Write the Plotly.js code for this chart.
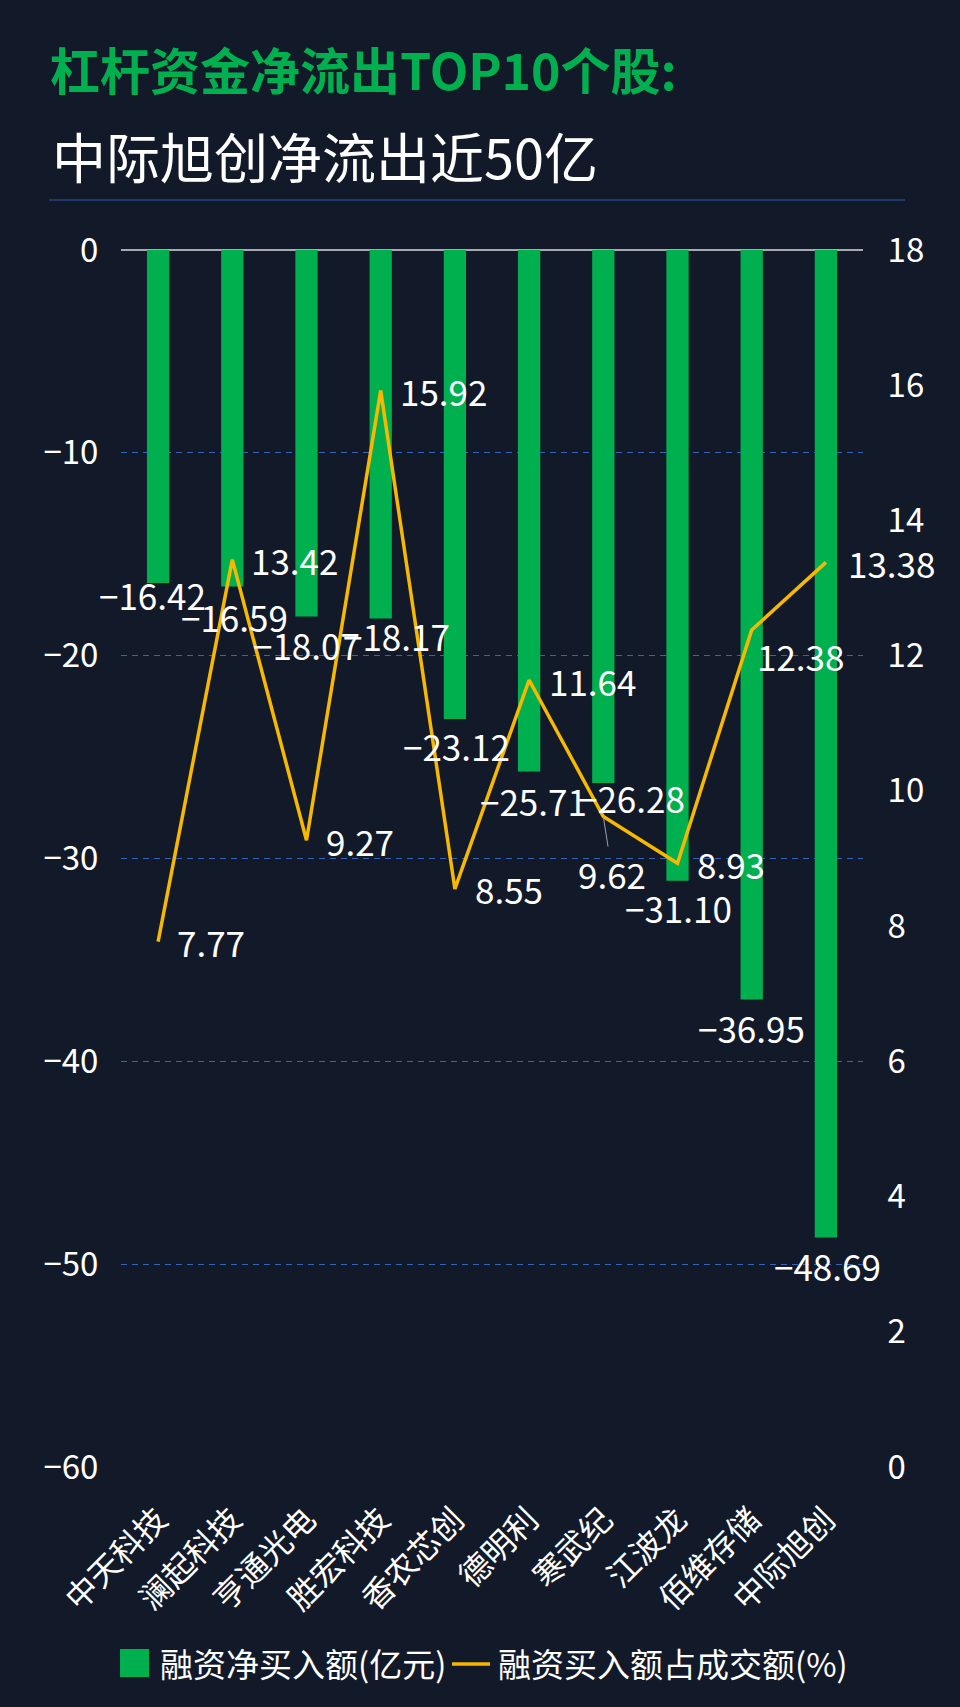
<!DOCTYPE html>
<html>
<head>
<meta charset="utf-8">
<script src="https://cdn.plot.ly/plotly-3.0.1.min.js"></script>
<style>
  html, body { margin: 0; padding: 0; background: #121a2a; }
  #chart { width: 960px; height: 1707px; }
</style>
</head>
<body>
<div id="chart"></div>
<script>
// ---- data ----
const categories = ['中天科技', '澜起科技', '亨通光电', '胜宏科技', '香农芯创', '德明利', '寒武纪', '江波龙', '佰维存储', '中际旭创'];
const netBuy = [-16.42, -16.59, -18.07, -18.17, -23.12, -25.71, -26.28, -31.10, -36.95, -48.69];
const buyRatio = [7.77, 13.42, 9.27, 15.92, 8.55, 11.64, 9.62, 8.93, 12.38, 13.38];
const leftTicks = [0, -10, -20, -30, -40, -50, -60];
const rightTicks = [0, 2, 4, 6, 8, 10, 12, 14, 16, 18];
const seriesNames = ['融资净买入额(亿元)', '融资买入额占成交额(%)'];
const titleLine1 = '杠杆资金净流出TOP10个股:';
const titleLine2 = '中际旭创净流出近50亿';

// ---- style / layout ----
const W = 960, H = 1707;
const M = { l: 121, r: 97, t: 250, b: 240 };
const PW = W - M.l - M.r, PH = H - M.t - M.b;
const px2x = px => (px - M.l) / PW;
const py2y = py => (H - M.b - py) / PH;
const FONT = '"Noto Sans CJK SC", "Noto Sans", sans-serif';
const GREEN = '#00b04f', AMBER = '#f8b800', BG = '#121a2a';
const fmt = v => v.toFixed(2).replace('-', '\u2212');
const LABEL_SIZE = 35;

// label nudges (pixels) to avoid collisions, like the original
const barLabelDx = [-6, 2, 0, 16, 2, 4, 28, 1, 0, 2];
const barLabelDy = [11, 30, 28, 17, 27, 29, 14, 27, 28, 28];
const lineLabelDx = [17, 17, 17, 17, 18, 18, 0, 17, 3, 20];
const lineLabelDy = [0, 0, 0, 0, 0, 0, 0, 0, 26, 0];

const traces = [
  {
    type: 'bar', x: categories, y: netBuy, name: seriesNames[0],
    marker: { color: GREEN }, yaxis: 'y', showlegend: false, hoverinfo: 'skip'
  },
  {
    type: 'scatter', mode: 'lines', x: categories, y: buyRatio, name: seriesNames[1],
    line: { color: AMBER, width: 3.5 }, yaxis: 'y2', showlegend: false, hoverinfo: 'skip'
  }
];

const annotations = [];
categories.forEach((c, i) => {
  annotations.push({
    xref: 'x', yref: 'y', x: c, y: netBuy[i], text: fmt(netBuy[i]),
    showarrow: false, xanchor: 'center', yanchor: 'middle',
    xshift: barLabelDx[i], yshift: -barLabelDy[i],
    font: { family: FONT, size: LABEL_SIZE, color: '#ffffff' }
  });
});
categories.forEach((c, i) => {
  if (i === 6) {
    annotations.push({
      xref: 'x', yref: 'y2', x: c, y: buyRatio[i], text: fmt(buyRatio[i]),
      showarrow: true, arrowhead: 0, arrowwidth: 1, arrowcolor: '#9a9ea6',
      ax: 9, ay: 57, standoff: 0,
      font: { family: FONT, size: LABEL_SIZE, color: '#ffffff' }
    });
  } else {
    annotations.push({
      xref: 'x', yref: 'y2', x: c, y: buyRatio[i], text: fmt(buyRatio[i]),
      showarrow: false, xanchor: 'left', yanchor: 'middle',
      xshift: lineLabelDx[i], yshift: -lineLabelDy[i],
      font: { family: FONT, size: LABEL_SIZE, color: '#ffffff' }
    });
  }
});

// second title line
annotations.push({
  xref: 'paper', yref: 'paper', x: px2x(50), y: py2y(155), xanchor: 'left', yanchor: 'middle',
  text: titleLine2, showarrow: false, font: { family: FONT, size: 54, color: '#ffffff' }
});
// legend texts
annotations.push({
  xref: 'paper', yref: 'paper', x: px2x(158), y: py2y(1663), xanchor: 'left', yanchor: 'middle',
  text: seriesNames[0], showarrow: false, font: { family: FONT, size: 33, color: '#ffffff' }
});
annotations.push({
  xref: 'paper', yref: 'paper', x: px2x(496), y: py2y(1663), xanchor: 'left', yanchor: 'middle',
  text: seriesNames[1], showarrow: false, font: { family: FONT, size: 33, color: '#ffffff' }
});

const shapes = [
  // separator under title
  { type: 'line', xref: 'paper', yref: 'paper', x0: px2x(49), x1: px2x(905), y0: py2y(200), y1: py2y(200),
    line: { color: '#1f3866', width: 2 } },
  // legend symbols
  { type: 'rect', xref: 'paper', yref: 'paper', x0: px2x(120), x1: px2x(149), y0: py2y(1649), y1: py2y(1677),
    fillcolor: GREEN, line: { width: 0 } },
  { type: 'line', xref: 'paper', yref: 'paper', x0: px2x(452), x1: px2x(490), y0: py2y(1664), y1: py2y(1664),
    line: { color: AMBER, width: 3.5 } }
];

const layout = {
  width: W, height: H,
  margin: M,
  paper_bgcolor: BG, plot_bgcolor: BG,
  font: { family: FONT, color: '#ffffff' },
  title: {
    text: '<b>' + titleLine1 + '</b>',
    xref: 'container', yref: 'container', x: 50 / W, y: 1 - 72 / H,
    xanchor: 'left', yanchor: 'middle',
    font: { family: FONT, size: 50, color: GREEN }
  },
  bargap: 0.70,
  showlegend: false,
  xaxis: {
    type: 'category', range: [-0.5, categories.length - 0.5], autorange: false,
    tickangle: -45,
    tickfont: { family: FONT, size: 32, color: '#ffffff' },
    ticks: 'outside', ticklen: 20, tickcolor: 'rgba(0,0,0,0)',
    showgrid: false, zeroline: false, showline: false, fixedrange: true
  },
  yaxis: {
    range: [-60, 0], autorange: false, tickvals: leftTicks,
    ticktext: leftTicks.map(v => v === 0 ? '0' : '\u2212' + Math.abs(v)),
    tickfont: { family: FONT, size: 33, color: '#ffffff' },
    ticks: 'outside', ticklen: 15, tickcolor: 'rgba(0,0,0,0)',
    showgrid: true, gridcolor: '#3563b8', gridwidth: 1, griddash: '6px,5px',
    zeroline: true, zerolinecolor: '#a5a9b0', zerolinewidth: 2,
    showline: false, fixedrange: true
  },
  yaxis2: {
    overlaying: 'y', side: 'right', range: [0, 18], autorange: false, tickvals: rightTicks,
    tickfont: { family: FONT, size: 33, color: '#ffffff' },
    ticks: 'outside', ticklen: 17, tickcolor: 'rgba(0,0,0,0)',
    showgrid: false, zeroline: false, showline: false, fixedrange: true
  },
  annotations: annotations,
  shapes: shapes
};

Plotly.newPlot('chart', traces, layout, { displayModeBar: false, staticPlot: true });
</script>
</body>
</html>
